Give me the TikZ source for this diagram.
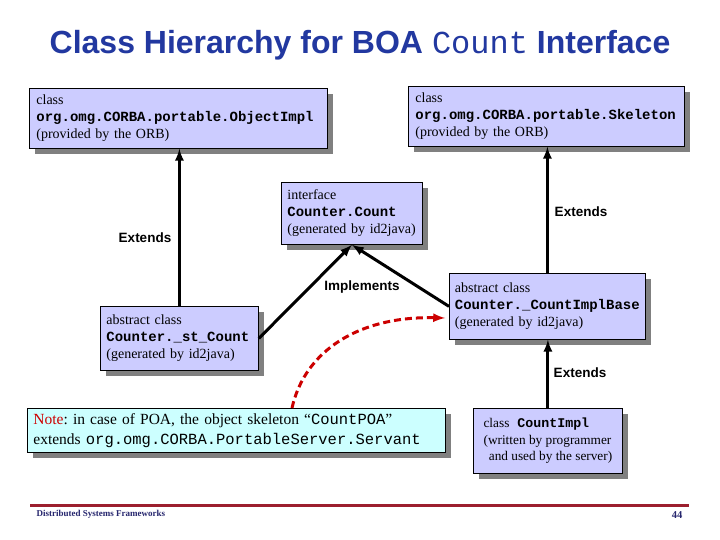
\documentclass[tikz,border=0pt]{standalone}
\usepackage{fontspec}
\setmainfont{Liberation Serif}
\setsansfont{Liberation Sans}
\setmonofont{Liberation Mono}
\usetikzlibrary{calc,shadows}
\definecolor{ink}{HTML}{000000}
\definecolor{lila}{HTML}{CCCCFF}
\definecolor{celeste}{HTML}{CCFFFF}
\definecolor{sombra}{HTML}{808080}
\definecolor{titazul}{HTML}{2238A0}
\definecolor{colred}{HTML}{CC0000}
\definecolor{granate}{HTML}{9C1F2E}
\definecolor{marino}{HTML}{26266E}
\newcommand{\codd}[1]{\texttt{\textbf{#1}}}
\frenchspacing

\tikzset{
  caja/.style={draw=ink, line width=0.8pt, fill=lila, anchor=north west,
    inner xsep=7pt, inner ysep=0pt, align=left,
    font=\fontsize{14}{17}\selectfont,
    general shadow={fill=sombra, shadow xshift=6pt, shadow yshift=-6pt}},
  etiq/.style={font=\fontsize{13.5}{16}\selectfont\sffamily\bfseries},
  flecha/.style={ink, line width=3pt, -latex},
}

\begin{document}
\begin{tikzpicture}[x=1pt,y=-1pt]
  \useasboundingbox[fill=white] (0,0) rectangle (720,540);

  % --- Titulo ---
  \node[font=\fontsize{32}{38}\selectfont\sffamily\bfseries,text=titazul]
    (titulo) at (360,45) {Class Hierarchy for BOA \textmd{\texttt{Count}} Interface};

  % --- Cajas de clases ---
  \node[caja,text width=284pt,minimum height=60pt]
    (objimpl) at (29,88) {class\\\codd{org.omg.CORBA.portable.ObjectImpl}\\(provided by the ORB)};
  \node[caja,text width=262pt,minimum height=60pt]
    (skel) at (408,86) {class\\\codd{org.omg.CORBA.portable.Skeleton}\\(provided by the ORB)};
  \node[caja,inner xsep=6pt,text width=129pt,minimum height=62pt]
    (count) at (281,182) {interface\\\codd{Counter.Count}\\(generated by id2java)};
  \node[caja,inner xsep=6pt,text width=146pt,minimum height=64pt]
    (stcount) at (100,306) {abstract class\\\codd{Counter.\_st\_Count}\\(generated by id2java)};
  \node[caja,inner xsep=5.5pt,text width=185pt,minimum height=66pt]
    (implbase) at (449,273) {abstract class\\\codd{Counter.\_CountImplBase}\\(generated by id2java)};
  \node[caja,inner xsep=4pt,minimum width=149pt,minimum height=65pt,
        font=\fontsize{13.3}{16.5}\selectfont]
    (countimpl) at (473,408) {class\hspace{0.6em}\codd{CountImpl}\\(written by programmer\\\hspace*{0.4em}and used by the server)};

  % --- Nota sobre POA ---
  \node[caja,fill=celeste,inner xsep=6pt,text width=406pt,minimum height=44pt,
        font=\fontsize{15.5}{20}\selectfont]
    (nota) at (27,408) {\textcolor{colred}{Note}: in case of POA, the object skeleton “\texttt{CountPOA}”\\
      extends \texttt{org.omg.CORBA.PortableServer.Servant}};

  % --- Flechas de herencia ---
  \draw[flecha] (stcount.north) -- (stcount.north |- objimpl.south);
  \draw[flecha] (implbase.north) -- (implbase.north |- skel.south);
  \draw[flecha] (countimpl.north) -- (countimpl.north |- implbase.south);
  \draw[flecha] (stcount.east) -- (count.south);
  \draw[flecha] (implbase.west) -- (count.south);

  \node[etiq] (extizq) at (145,238) {Extends};
  \node[etiq] (extder) at (581,212) {Extends};
  \node[etiq] (extabj) at (580,373) {Extends};
  \node[etiq] (implem) at (362,287) {Implements};

  % --- Curva roja punteada ---
  \coordinate (notatop) at (292,408);
  \coordinate (notafin) at (445,318);
  \draw[colred,line width=3pt,dash pattern=on 7pt off 4pt,-latex]
    (notatop) .. controls (305,350) and (360,316) .. (notafin);

  % --- Pie de pagina ---
  \coordinate (pieA) at (30,505);
  \coordinate (pieB) at (689,505);
  \draw[granate,line width=3pt] (pieA) -- (pieB);
  \node[font=\fontsize{9}{11}\selectfont\bfseries,text=marino,anchor=west]
    (pietexto) at (33,514) {Distributed Systems Frameworks};
  \node[font=\fontsize{10.5}{12}\selectfont\bfseries,text=marino]
    (pagina) at (677,515) {44};
\end{tikzpicture}
\end{document}
